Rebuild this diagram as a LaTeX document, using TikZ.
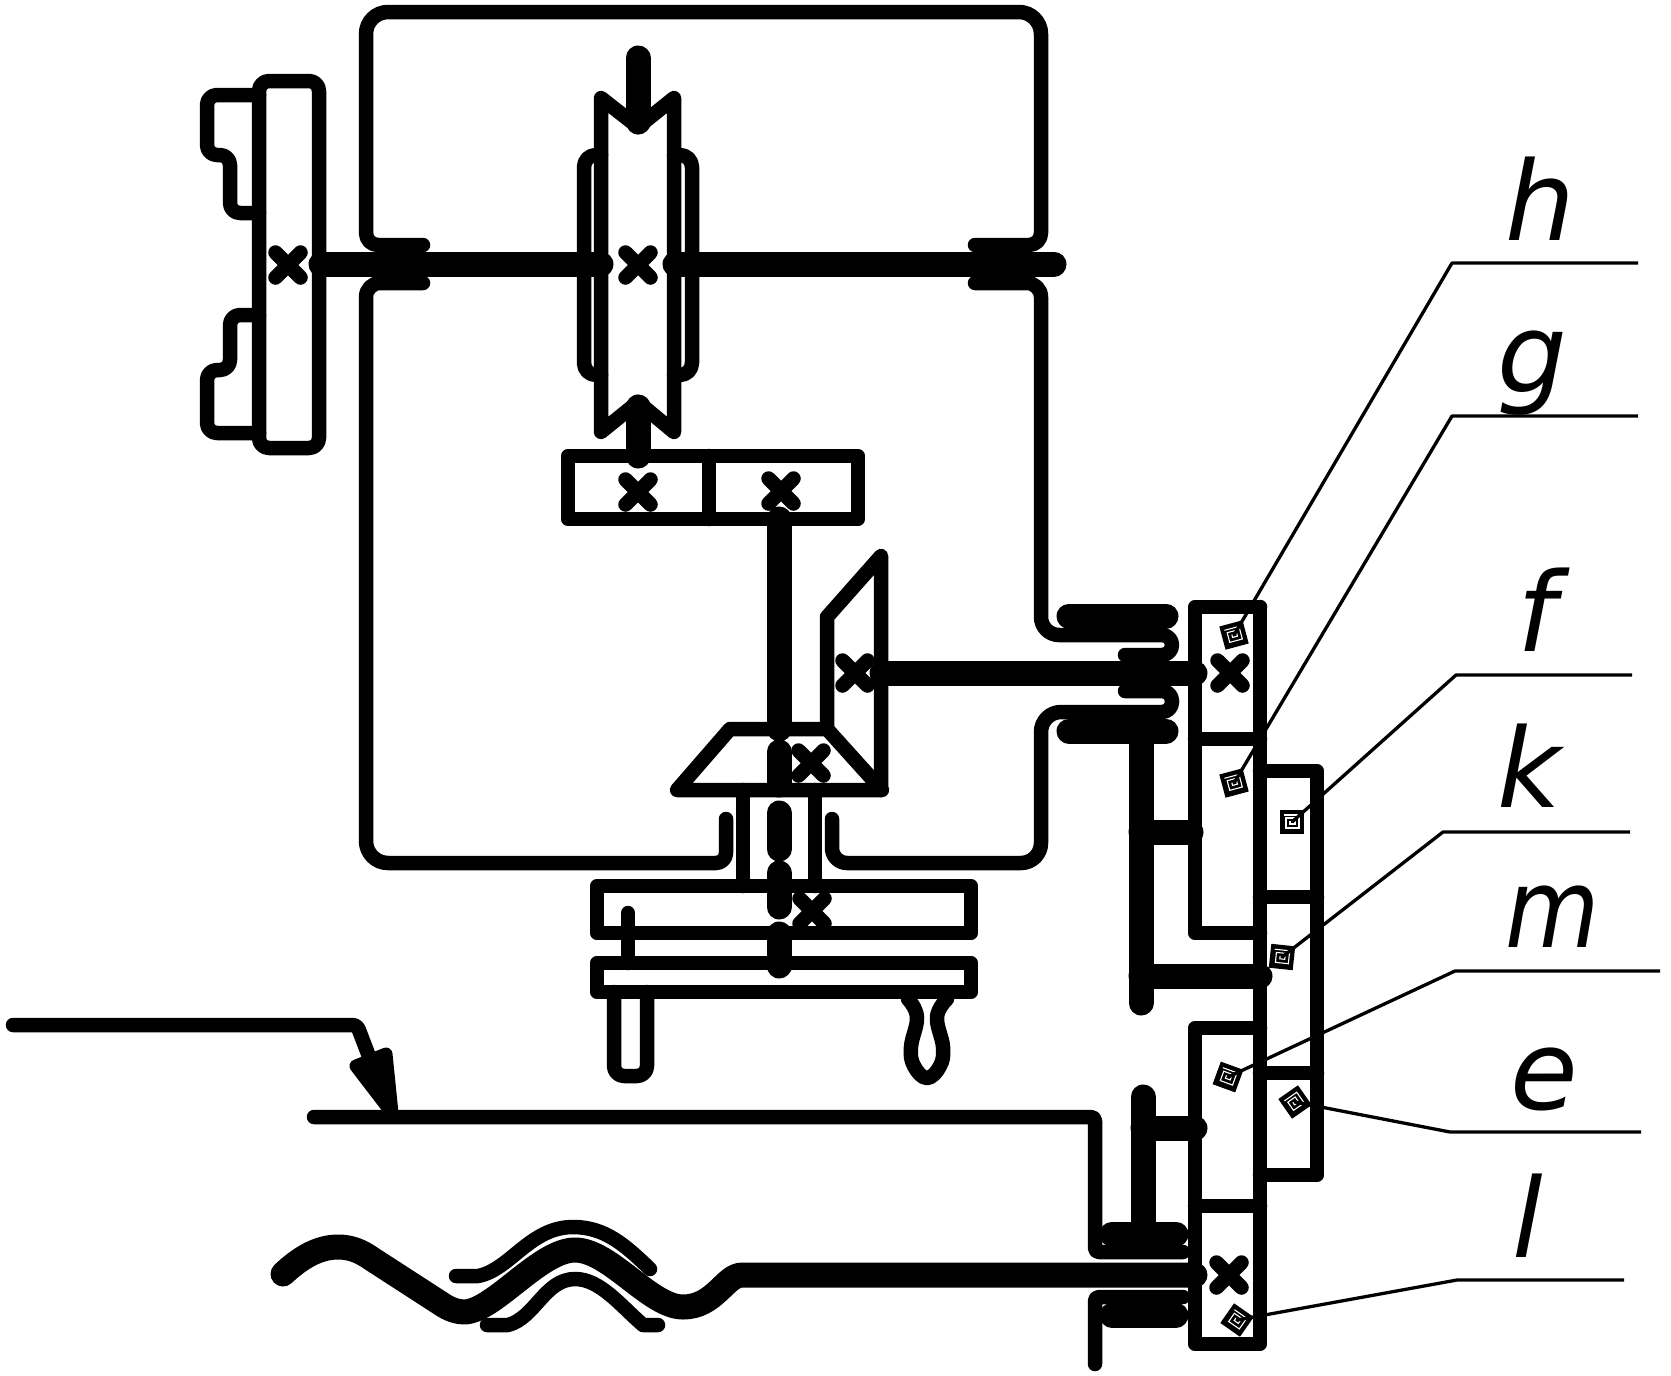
\documentclass[tikz,border=0pt]{standalone}
\usepackage{fontspec}
\setmainfont{DejaVu Sans}
\tikzset{
  part/.style={line width=14.5pt,line cap=round,line join=round},
  shaft/.style={line width=25pt,line cap=round,line join=round},
  leader/.style={line width=3.3pt,line join=round},
  letter/.style={inner sep=0pt,anchor=base west,font=\fontsize{110}{120}\selectfont\itshape},
  crossmark/.pic={\draw[part] (-12.5,-12.5) -- (12.5,12.5) (-12.5,12.5) -- (12.5,-12.5);},
  coilmark/.pic={
    \fill[line join=round] (-12,-12) rectangle (12,12);
    \draw[white,line width=1.1pt] (-2,-1) -- (-2,2) -- (3,2) -- (3,-4) -- (-6,-4) -- (-6,6) -- (7,6) -- (7,-7) -- (-8,-7);
  },
}
\begin{document}
\begin{tikzpicture}[x=1pt,y=-1pt]
\useasboundingbox (0,0) rectangle (1671,1376);
% frame
\draw[part] (423,245) [rounded corners=12] -- (366,245) [rounded corners=22] -- (366,12) -- (1041,12) [rounded corners=12] -- (1041,245) -- (975,245);
\draw[part] (423,283) [rounded corners=14] -- (366,283) [rounded corners=22] -- (366,863) [rounded corners=10] -- (726,863) -- (726,819);
\draw[part] (975,283) [rounded corners=14] -- (1041,283) [rounded corners=18] -- (1041,635) [rounded corners=10] -- (1172,635) -- (1172,655) -- (1125,655);
\draw[part] (832,819) [rounded corners=15] -- (832,863) [rounded corners=20] -- (1041,863) -- (1041,712) [rounded corners=10] -- (1172,712) -- (1172,691) -- (1125,691);
% left block
\draw[part,rounded corners=10] (259,448) rectangle (319,81);
\draw[part,rounded corners=10] (259,95) -- (207,95) -- (207,155) -- (230,155) -- (230,213) -- (259,213);
\draw[part,rounded corners=10] (259,315) -- (230,315) -- (230,370) -- (207,370) -- (207,433) -- (259,433);
\pic at (288,265) {crossmark};
% main shaft
\draw[shaft] (321,264) -- (601,264);
\draw[shaft] (675,264) -- (1054,264);
% middle wheel
\draw[part] (601,98) -- (638,127) -- (674,98) -- (674,432) -- (638,402) -- (601,432) -- cycle;
\draw[part,rounded corners=12] (601,155) -- (584,155) -- (584,375) -- (601,375);
\draw[part,rounded corners=12] (674,155) -- (692,155) -- (692,375) -- (674,375);
\draw[shaft] (638,58) -- (638,122);
\draw[shaft] (638,407) -- (638,456);
\pic at (638,265) {crossmark};
% gear box
\draw[part] (568,456) rectangle (858,519);
\draw[part] (709,456) -- (709,519);
\pic at (638,492) {crossmark};
\pic at (781,491) {crossmark};
% bevel pair
\draw[shaft] (779,519) -- (779,729);
\draw[part] (677,790) -- (730,729) -- (827,729) -- (882,790) -- cycle;
\draw[part] (827,729) -- (827,617) -- (881,556) -- (881,790);
\pic at (811,763) {crossmark};
\pic at (855,673) {crossmark};
\draw[shaft] (882,673) -- (1195,673);
\draw[shaft] (779,752) -- (779,785);
\draw[shaft] (779,813) -- (779,849);
\draw[shaft] (779,873) -- (779,907);
\draw[shaft] (779,934) -- (779,966);
\draw[part] (743,790) -- (743,886);
\draw[part] (815,790) -- (815,886);
% bench
\draw[part] (597,886) rectangle (971,933);
\draw[part] (597,963) rectangle (971,992);
\pic at (812,911) {crossmark};
\draw[part] (628,913) -- (628,963);
\draw[part,rounded corners=10] (614,992) -- (614,1076) -- (647,1076) -- (647,992);
\draw[part] plot[smooth,tension=.7] coordinates {(908,999) (917,1017) (911,1047) (914,1066) (927,1078) (940,1066) (943,1047) (937,1017) (947,999)};
% output column
\draw[part] (1260,607) -- (1195,607) -- (1195,933) -- (1260,933);
\draw[part] (1195,739) -- (1260,739);
\draw[part] (1260,607) -- (1260,1344) -- (1195,1344) -- (1195,1028) -- (1260,1028);
\draw[part] (1195,1206) -- (1260,1206);
\draw[part] (1260,771) -- (1317,771) -- (1317,1175) -- (1260,1175);
\draw[part] (1260,897) -- (1317,897);
\draw[part] (1260,1073) -- (1317,1073);
\pic at (1230,673) {crossmark};
\pic at (1229,1275) {crossmark};
% upper bearing and rods
\draw[shaft] (1069,616) -- (1166,616);
\draw[shaft] (1069,731) -- (1166,731);
\draw[shaft] (1141,731) -- (1141,1003);
\draw[shaft] (1141,832) -- (1191,832);
\draw[shaft] (1141,976) -- (1260,976);
% lower bearing
\draw[part,rounded corners=4] (314,1117) -- (1095,1117) -- (1095,1252) -- (1183,1252);
\draw[part,rounded corners=4] (1183,1297) -- (1095,1297) -- (1095,1364);
\draw[shaft] (1112,1234) -- (1176,1234);
\draw[shaft] (1112,1315) -- (1176,1315);
\draw[shaft] (1143,1097) -- (1143,1234);
\draw[shaft] (1143,1128) -- (1195,1128);
% belt
\draw[shaft] (283,1274) .. controls (300,1258) and (318,1247) .. (338,1247) .. controls (352,1247) and (362,1252) .. (372,1259) -- (440,1303) .. controls (450,1310) and (458,1312) .. (465,1312) .. controls (495,1310) and (540,1250) .. (575,1250) .. controls (610,1250) and (650,1307) .. (683,1307) .. controls (715,1307) and (725,1275) .. (742,1275) -- (1195,1275);
\draw[part] (456,1276) -- (478,1276) .. controls (510,1270) and (530,1227) .. (573,1227) .. controls (605,1227) and (625,1245) .. (650,1269);
\draw[part] (487,1325) -- (508,1325) .. controls (535,1318) and (545,1279) .. (575,1279) .. controls (600,1279) and (620,1305) .. (643,1325) -- (658,1325);
% input line and arrow
\draw[part,rounded corners=4] (13,1025) -- (357,1025) -- (380,1085);
\fill[draw,line width=13pt,line join=round] (356,1066) -- (386,1054) -- (392,1113) -- cycle;
% marks
\coordinate (hmark) at (1234,635);
\coordinate (gmark) at (1234,783);
\coordinate (fmark) at (1292,822);
\coordinate (kmark) at (1282,957);
\coordinate (mmark) at (1228,1077);
\coordinate (emark) at (1295,1102);
\coordinate (lmark) at (1237,1320);
\pic[rotate=15] at (hmark) {coilmark};
\pic[rotate=15] at (gmark) {coilmark};
\pic at (fmark) {coilmark};
\pic[rotate=-6] at (kmark) {coilmark};
\pic[rotate=-20] at (mmark) {coilmark};
\pic[rotate=35] at (emark) {coilmark};
\pic[rotate=-35] at (lmark) {coilmark};
% leaders
\draw[leader] (hmark) -- (1452,263) -- (1638,263);
\draw[leader] (gmark) -- (1452,416) -- (1638,416);
\draw[leader] (fmark) -- (1456,675) -- (1632,675);
\draw[leader] (kmark) -- (1443,832) -- (1630,832);
\draw[leader] (mmark) -- (1455,971) -- (1660,971);
\draw[leader] (emark) -- (1450,1132) -- (1641,1132);
\draw[leader] (lmark) -- (1457,1280) -- (1624,1280);
% letters
\node[letter] (hlabel) at (1505,240) {h};
\node[letter] (glabel) at (1497,392) {g};
\node[letter] (flabel) at (1517,651) {f};
\node[letter] (klabel) at (1497,807) {k};
\node[letter] (mlabel) at (1505,947) {\scalebox{.88}[1]{m}};
\node[letter] (elabel) at (1510,1109) {e};
\node[letter] (llabel) at (1512,1257) {l};
\end{tikzpicture}
\end{document}
